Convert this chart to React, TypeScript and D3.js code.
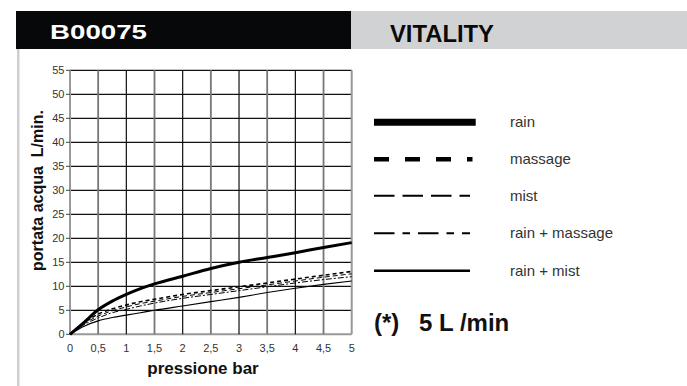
import React from "react";
import * as d3 from "d3";

const pressure = [0, 0.25, 0.5, 0.75, 1, 1.25, 1.5, 2, 2.5, 3, 3.5, 4, 4.5, 5];
const rain = [0, 2.5, 5.1, 6.9, 8.3, 9.5, 10.5, 12.1, 13.7, 15, 16, 17, 18.1, 19.1];
const massage = [0, 2.4, 4.2, 5.3, 6.1, 6.8, 7.3, 8.3, 9.1, 9.9, 10.7, 11.5, 12.3, 13.1];
const mist = [0, 2.2, 3.8, 4.9, 5.7, 6.4, 6.9, 7.9, 8.7, 9.5, 10.3, 11.1, 11.9, 12.6];
const rainMassage = [0, 2.0, 3.4, 4.5, 5.2, 5.9, 6.5, 7.5, 8.3, 9.1, 9.9, 10.7, 11.4, 12.0];
const rainMist = [0, 1.7, 2.8, 3.5, 4.0, 4.5, 5.0, 5.9, 6.8, 7.7, 8.7, 9.6, 10.4, 11.1];

const xTicks = [0, 0.5, 1, 1.5, 2, 2.5, 3, 3.5, 4, 4.5, 5];
const yTicks = [0, 5, 10, 15, 20, 25, 30, 35, 40, 45, 50, 55];
const seriesNames = ["rain", "massage", "mist", "rain + massage", "rain + mist"];

const FONT = "'Liberation Sans', Arial, Helvetica, sans-serif";

export default function App() {
  const x = d3.scaleLinear().domain([0, 5]).range([70, 351.7]);
  const y = d3.scaleLinear().domain([0, 55]).range([334.3, 70.3]);
  const fmt = (v: number) => String(v).replace(".", ",");

  const series = [rain, massage, mist, rainMassage, rainMist];
  const plotStyles = [
    { w: 3, dash: "" },
    { w: 1.6, dash: "4,3" },
    { w: 1, dash: "5,3" },
    { w: 1, dash: "6,2,2,2" },
    { w: 1.1, dash: "" },
  ];
  const legendStyles = [
    { w: 7, dash: "", x2: 475.7 },
    { w: 4.6, dash: "15,16", x2: 472.5 },
    { w: 2, dash: "20.5,8", x2: 470 },
    { w: 2, dash: "20.5,8,7.5,8", x2: 470 },
    { w: 2.5, dash: "", x2: 470 },
  ];
  const legendY = [122.2, 159.3, 195.7, 233.3, 270.7];

  const line = d3
    .line<number>()
    .x((_, i) => x(pressure[i]))
    .y((d) => y(d))
    .curve(d3.curveMonotoneX);

  return (
    <svg
      width={687}
      height={386}
      style={{ position: "absolute", left: 0, top: 0, background: "#fff" }}
      fontFamily={FONT}
    >
      {/* header */}
      <rect x={16} y={11} width={335} height={38} fill="#060809" />
      <rect x={351} y={11} width={336} height={38} fill="#d1d2d4" />
      <text x={50} y={39.3} fill="#fff" fontWeight="bold" fontSize={21} textLength={97} lengthAdjust="spacingAndGlyphs">
        B00075
      </text>
      <text x={390} y={41.5} fill="#0a0a0a" fontWeight="bold" fontSize={24} textLength={104} lengthAdjust="spacingAndGlyphs">
        VITALITY
      </text>
      <rect x={17} y={49} width={2.5} height={337} fill="#cfcfcf" />

      {/* grid */}
      {yTicks.map((t) => (
        <line key={"h" + t} x1={x(0)} x2={x(5)} y1={y(t)} y2={y(t)} stroke={t === 0 ? "#999" : "#111"} strokeWidth={t === 0 ? 2 : 1.2} />
      ))}
      {xTicks.map((t) => {
        const integer = Number.isInteger(t);
        const edge = t === 0 || t === 5;
        return (
          <line
            key={"v" + t}
            x1={x(t)}
            x2={x(t)}
            y1={y(55)}
            y2={y(0)}
            stroke={edge ? "#999" : integer ? "#111" : "#777"}
            strokeWidth={edge ? 2 : integer ? 1.2 : 1.8}
          />
        );
      })}
      {yTicks.map((t) => (
        <line key={"yt" + t} x1={66} x2={70} y1={y(t)} y2={y(t)} stroke="#444" strokeWidth={1} />
      ))}

      {/* tick labels */}
      {yTicks.map((t) => (
        <text key={"yl" + t} x={64.5} y={y(t) + 4} textAnchor="end" fontSize={11} fill="#333">
          {t}
        </text>
      ))}
      {xTicks.map((t) => (
        <text key={"xl" + t} x={x(t)} y={352} textAnchor="middle" fontSize={11} fill="#333">
          {fmt(t)}
        </text>
      ))}

      {/* axis titles */}
      <text x={203} y={374} textAnchor="middle" fontSize={17} fontWeight="bold" fill="#111">
        pressione bar
      </text>
      <text
        transform="translate(43,190.5) rotate(-90)"
        textAnchor="middle"
        fontSize={16}
        fontWeight="bold"
        fill="#111"
        style={{ whiteSpace: "pre" }}
      >
        {"portata acqua  L/min."}
      </text>

      {/* curves */}
      {series.map((s, i) => (
        <path
          key={"c" + i}
          d={line(s) || ""}
          fill="none"
          stroke="#000"
          strokeWidth={plotStyles[i].w}
          strokeDasharray={plotStyles[i].dash || undefined}
        />
      ))}

      {/* legend */}
      {seriesNames.map((n, i) => (
        <g key={"lg" + i}>
          <line
            x1={374}
            x2={legendStyles[i].x2}
            y1={legendY[i]}
            y2={legendY[i]}
            stroke="#000"
            strokeWidth={legendStyles[i].w}
            strokeDasharray={legendStyles[i].dash || undefined}
          />
          <text x={510} y={legendY[i] + 5} fontSize={15} fill="#333">
            {n}
          </text>
        </g>
      ))}

      <text x={374} y={331} fontSize={24} fontWeight="bold" fill="#111">
        (*)
      </text>
      <text x={419} y={331} fontSize={24} fontWeight="bold" fill="#111" style={{ whiteSpace: "pre" }}>
        {"5 L /min"}
      </text>
    </svg>
  );
}
